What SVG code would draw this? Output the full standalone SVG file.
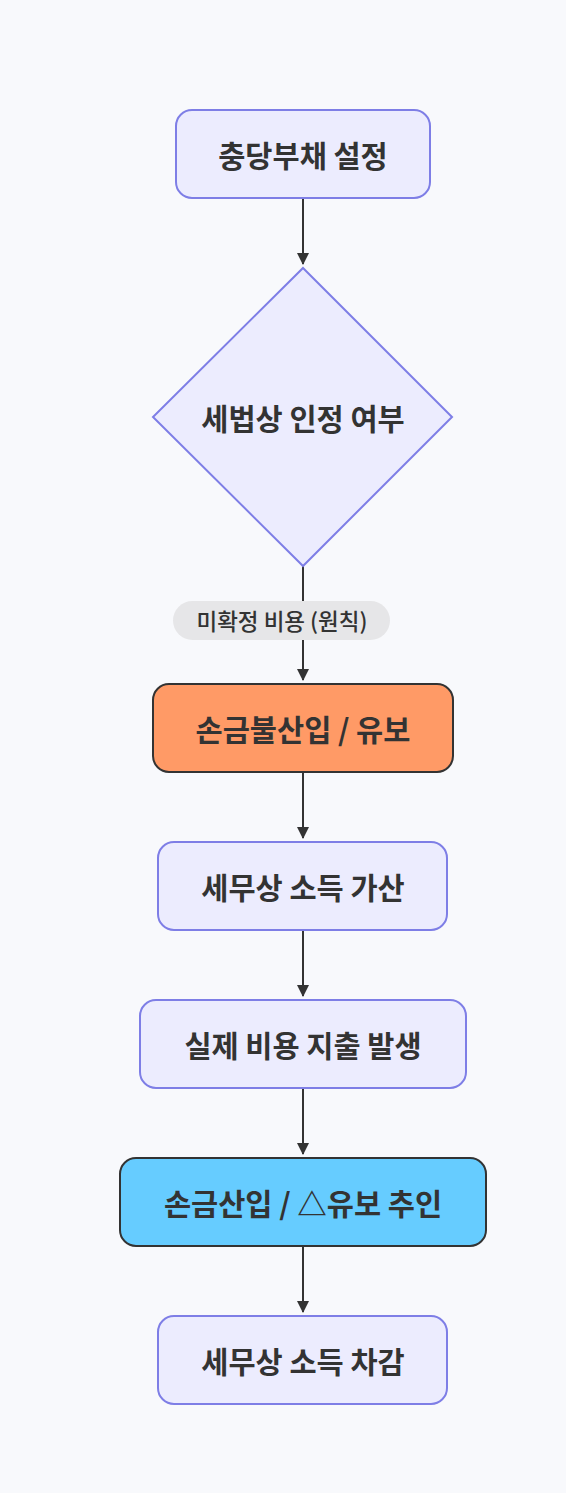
<svg xmlns="http://www.w3.org/2000/svg" width="566" height="1493" viewBox="0 0 566 1493">
<style>
.bg{fill:#f8f9fc}
.n{fill:#ececfe;stroke:#7e7ee6;stroke-width:2}
.t{font-family:"Noto Sans CJK KR","Noto Sans",sans-serif;font-size:29.5px;font-weight:600;fill:#333;text-anchor:middle;dominant-baseline:central}
.lt{font-family:"Noto Sans CJK KR","Noto Sans",sans-serif;font-size:22.5px;font-weight:500;fill:#333;text-anchor:middle;dominant-baseline:central}
.e{stroke:#333;stroke-width:2;fill:none}
</style>
<defs>
<marker id="ah" viewBox="0 0 12 12" refX="11" refY="6" markerWidth="12" markerHeight="12" markerUnits="userSpaceOnUse" orient="auto">
<path d="M0,0 L12,6 L0,12 z" fill="#333"/>
</marker>
</defs>
<rect class="bg" x="0" y="0" width="566" height="1493"/>
<g id="edges">
<path class="e" d="M303,198 L303,264" marker-end="url(#ah)"/>
<path class="e" d="M303,566 L303,680" marker-end="url(#ah)"/>
<path class="e" d="M303,772 L303,838" marker-end="url(#ah)"/>
<path class="e" d="M303,930 L303,996" marker-end="url(#ah)"/>
<path class="e" d="M303,1088 L303,1154" marker-end="url(#ah)"/>
<path class="e" d="M303,1246 L303,1312" marker-end="url(#ah)"/>
</g>
<g id="edge-label">
<rect x="173" y="601" width="217" height="39" rx="19.5" fill="#e6e6e8"/>
<text class="lt" x="282" y="620">미확정 비용 (원칙)</text>
</g>
<g id="n1">
<rect class="n" x="176" y="110" width="254" height="88" rx="16"/>
<text class="t" x="303" y="154">충당부채 설정</text>
</g>
<g id="n2">
<polygon class="n" points="303,268 452,417 303,566 153,417"/>
<text class="t" x="303" y="417">세법상 인정 여부</text>
</g>
<g id="n3">
<rect x="153" y="684" width="300" height="88" rx="16" fill="#ff9a66" stroke="#333" stroke-width="2"/>
<text class="t" x="303" y="728">손금불산입 / 유보</text>
</g>
<g id="n4">
<rect class="n" x="158" y="842" width="289" height="88" rx="16"/>
<text class="t" x="303" y="886">세무상 소득 가산</text>
</g>
<g id="n5">
<rect class="n" x="140" y="1000" width="326" height="88" rx="16"/>
<text class="t" x="303" y="1044">실제 비용 지출 발생</text>
</g>
<g id="n6">
<rect x="120" y="1158" width="366" height="88" rx="16" fill="#66ccff" stroke="#333" stroke-width="2"/>
<text class="t" x="303" y="1202">손금산입 / △유보 추인</text>
</g>
<g id="n7">
<rect class="n" x="158" y="1316" width="289" height="88" rx="16"/>
<text class="t" x="303" y="1360">세무상 소득 차감</text>
</g>
</svg>
